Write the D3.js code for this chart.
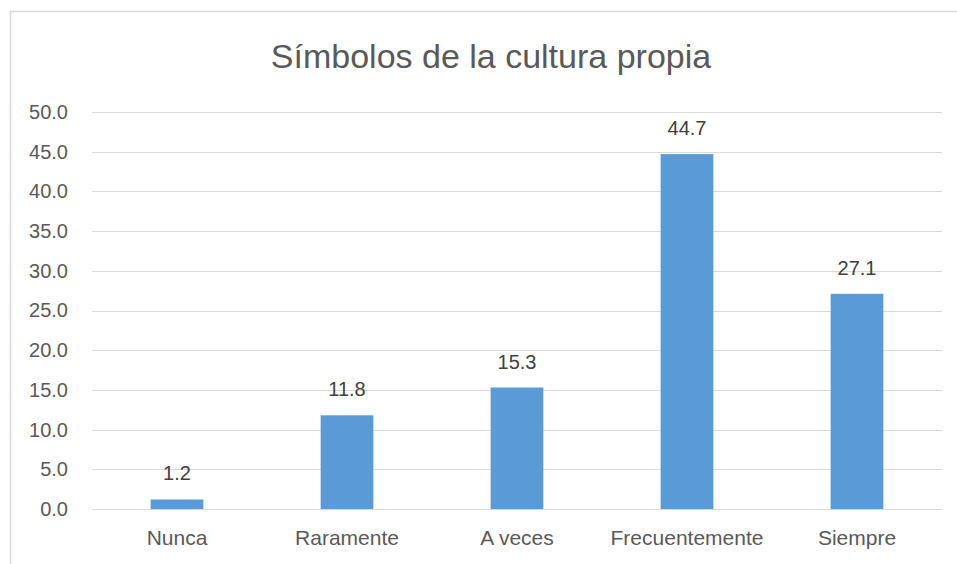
<!DOCTYPE html>
<html>
<head>
<meta charset="utf-8">
<script src="https://cdn.jsdelivr.net/npm/d3@7"></script>
<style>
  body { margin: 0; background: #fff; }
  svg text { font-family: "Liberation Sans", "DejaVu Sans", sans-serif; }
</style>
</head>
<body>
<svg id="chart" width="957" height="564"></svg>
<script>
const categories = ['Nunca', 'Raramente', 'A veces', 'Frecuentemente', 'Siempre'];
const values = [1.2, 11.8, 15.3, 44.7, 27.1];
const yTicks = [0, 5, 10, 15, 20, 25, 30, 35, 40, 45, 50];
const title = 'Símbolos de la cultura propia';

const svg = d3.select('#chart');
const margin = { left: 92, right: 15, top: 112, bottom: 55 };
const width = 957, height = 564;

// chart frame
svg.append('rect')
    .attr('x', 10.5).attr('y', 11.5)
    .attr('width', 960).attr('height', 560)
    .attr('fill', 'none').attr('stroke', '#d9d9d9').attr('stroke-width', 1.5);

const x = d3.scaleBand().domain(categories)
    .range([margin.left, width - margin.right])
    .paddingInner(0.69).paddingOuter(0.345);
const y = d3.scaleLinear().domain([0, 50]).range([height - margin.bottom, margin.top]);

// gridlines
svg.append('g').selectAll('line').data(yTicks).join('line')
    .attr('x1', margin.left).attr('x2', width - margin.right)
    .attr('y1', d => Math.round(y(d)) + 0.5).attr('y2', d => Math.round(y(d)) + 0.5)
    .attr('stroke', '#d9d9d9').attr('stroke-width', 1);

// y axis labels
const yAxis = svg.append('g')
    .attr('transform', `translate(${margin.left - 24},0)`)
    .call(d3.axisLeft(y).tickValues(yTicks).tickFormat(d3.format('.1f')).tickSize(0).tickPadding(0));
yAxis.select('.domain').remove();
yAxis.selectAll('text').attr('fill', '#595959').attr('font-size', 20);

// x axis labels
const xAxis = svg.append('g')
    .attr('transform', `translate(0,${height - margin.bottom})`)
    .call(d3.axisBottom(x).tickSize(0).tickPadding(21));
xAxis.select('.domain').remove();
xAxis.selectAll('text').attr('fill', '#595959').attr('font-size', 21);

// bars
svg.append('g').selectAll('rect').data(values).join('rect')
    .attr('x', (d, i) => x(categories[i]))
    .attr('y', d => y(d))
    .attr('width', x.bandwidth())
    .attr('height', d => y(0) - y(d))
    .attr('fill', '#5b9bd5');

// value labels
svg.append('g').selectAll('text').data(values).join('text')
    .attr('x', (d, i) => x(categories[i]) + x.bandwidth() / 2)
    .attr('y', d => y(d) - 19)
    .attr('text-anchor', 'middle')
    .attr('fill', '#404040')
    .attr('font-size', 20)
    .text(d => d3.format('.1f')(d));

// title
svg.append('text')
    .attr('x', 491).attr('y', 68)
    .attr('text-anchor', 'middle')
    .attr('fill', '#595959')
    .attr('font-size', 34)
    .text(title);
</script>
</body>
</html>
